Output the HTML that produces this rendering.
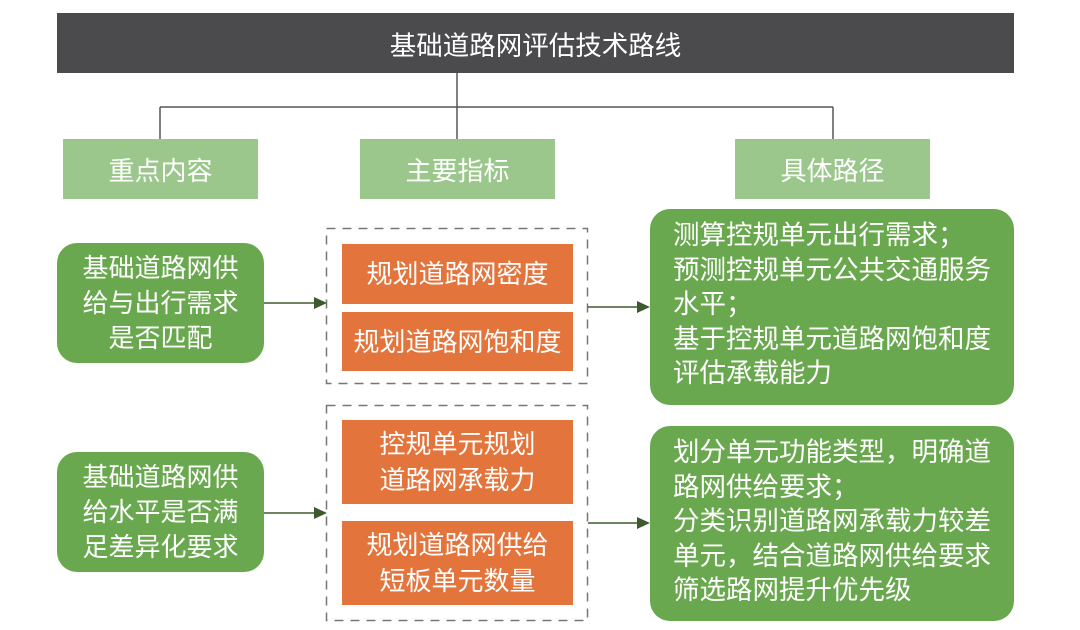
<!DOCTYPE html>
<html><head><meta charset="utf-8"><style>
*{margin:0;padding:0;box-sizing:border-box}
body{width:1080px;height:630px;background:#fff;position:relative;overflow:hidden;font-family:"Liberation Sans","Noto Sans CJK SC",sans-serif;color:#fff}
.a{position:absolute;display:flex;align-items:center;justify-content:center;text-align:center}
.t{background:#4b4b4d;font-size:26.5px}
.h{background:#9cc78c;font-size:26px}
.g{background:#6aa84f;border-radius:20px;font-size:26px;line-height:35px}
.o{background:#e2743c;font-size:26px;line-height:36px}
.r{position:absolute;background:#6aa84f;border-radius:20px;font-size:26.5px;line-height:34.5px;padding:9px 0 0 23px;text-align:left;white-space:nowrap}
</style></head><body>
<svg width="1080" height="630" style="position:absolute;left:0;top:0">
<g stroke="#555" stroke-width="1.5" fill="none">
<line x1="457" y1="73" x2="457" y2="139"/>
<line x1="160" y1="107" x2="833" y2="107"/>
<line x1="160" y1="107" x2="160" y2="139"/>
<line x1="833" y1="107" x2="833" y2="139"/>
</g>
<g stroke="#777" stroke-width="1.5" fill="none" stroke-dasharray="9 7">
<rect x="326.5" y="228.5" width="261" height="155"/>
<rect x="326.5" y="405.5" width="261" height="215"/>
</g>
<g stroke="#3d5a2e" stroke-width="1.5">
<line x1="264" y1="303" x2="316" y2="303"/>
<line x1="264" y1="513" x2="316" y2="513"/>
<line x1="588" y1="307" x2="640" y2="307"/>
<line x1="588" y1="523" x2="640" y2="523"/>
</g>
<g fill="#3d5a2e">
<polygon points="314,297 327,303 314,309"/>
<polygon points="314,507 327,513 314,519"/>
<polygon points="637,301 650,307 637,313"/>
<polygon points="637,517 650,523 637,529"/>
</g>
</svg>
<div class="a t" style="left:57px;top:13px;width:957px;height:60px">基础道路网评估技术路线</div>
<div class="a h" style="left:63px;top:139px;width:195px;height:60px">重点内容</div>
<div class="a h" style="left:360px;top:139px;width:195px;height:60px">主要指标</div>
<div class="a h" style="left:735px;top:139px;width:195px;height:60px">具体路径</div>
<div class="a g" style="left:57px;top:243px;width:207px;height:120px">基础道路网供<br>给与出行需求<br>是否匹配</div>
<div class="a g" style="left:57px;top:452px;width:207px;height:120px">基础道路网供<br>给水平是否满<br>足差异化要求</div>
<div class="a o" style="left:342px;top:244px;width:231px;height:60px">规划道路网密度</div>
<div class="a o" style="left:342px;top:312px;width:231px;height:59px">规划道路网饱和度</div>
<div class="a o" style="left:342px;top:420px;width:231px;height:84px">控规单元规划<br>道路网承载力</div>
<div class="a o" style="left:342px;top:521px;width:231px;height:84px">规划道路网供给<br>短板单元数量</div>
<div class="r" style="left:650px;top:209px;width:364px;height:196px">测算控规单元出行需求；<br>预测控规单元公共交通服务<br>水平；<br>基于控规单元道路网饱和度<br>评估承载能力</div>
<div class="r" style="left:650px;top:426px;width:364px;height:195px">划分单元功能类型，明确道<br>路网供给要求；<br>分类识别道路网承载力较差<br>单元，结合道路网供给要求<br>筛选路网提升优先级</div>
</body></html>
